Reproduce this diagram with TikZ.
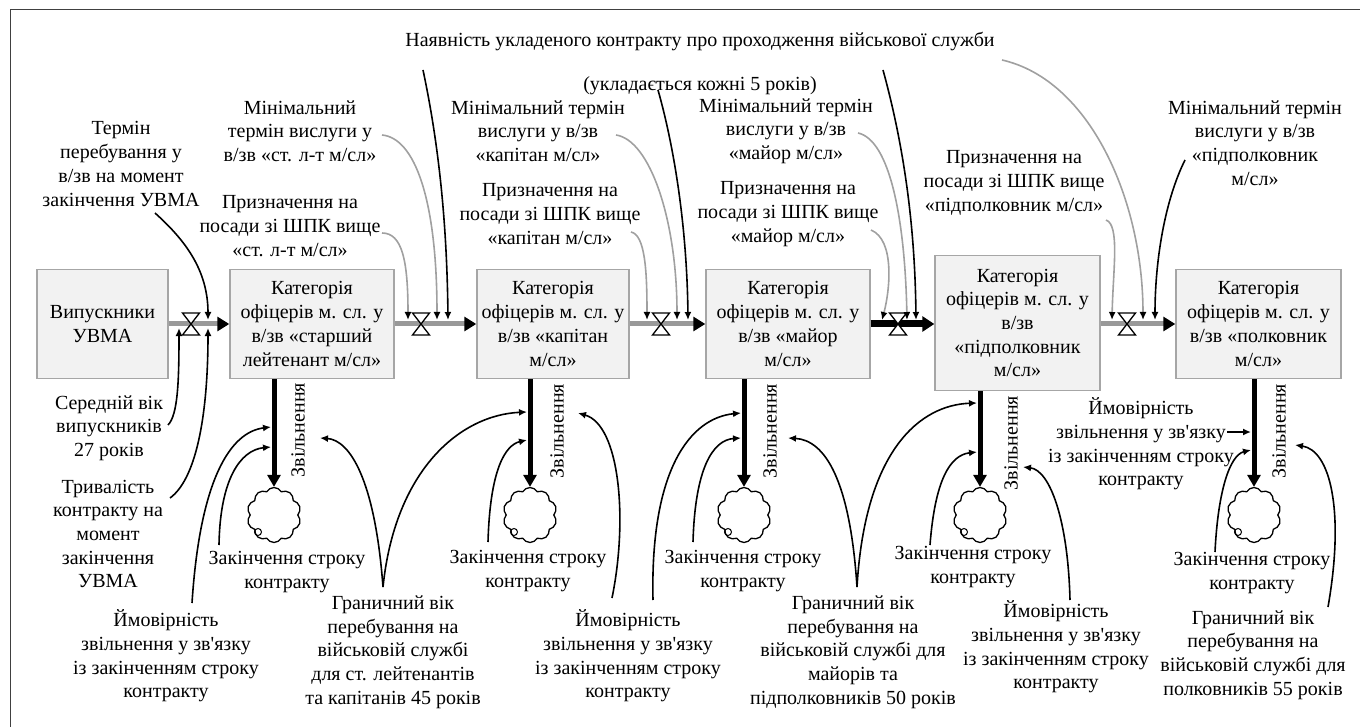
\documentclass[tikz,border=0pt]{standalone}
\usepackage{fontspec}
\setmainfont{Liberation Serif}
\usetikzlibrary{arrows.meta,shapes.symbols,calc}
\definecolor{boxgray}{HTML}{A6A6A6}
\definecolor{boxfill}{HTML}{F2F2F2}
\definecolor{pipegray}{HTML}{999999}
\definecolor{linkgray}{HTML}{A0A0A0}
\begin{document}
\begin{tikzpicture}[x=1pt,y=-1pt,
  font=\fontsize{20}{23.7}\selectfont,
  stockbox/.style={draw=boxgray, fill=boxfill, line width=1.4pt, align=center, inner sep=0pt},
  lbl/.style={align=center, inner sep=0pt},
  pipe/.style={line width=5pt, draw=pipegray, -{Triangle[length=12pt,width=14pt,color=black]}},
  blackpipe/.style={line width=7pt, draw=black, -{Triangle[length=12pt,width=15pt,color=black]}},
  ink/.style={line width=1.6pt, draw=black, -{Latex[length=8pt,width=7pt]}},
  ing/.style={line width=1.6pt, draw=linkgray, -{Latex[length=8pt,width=7pt,color=black]}},
  outfl/.style={line width=5pt, draw=black, -{Triangle[length=12pt,width=13pt]}},
  sink/.style={cloud, draw, cloud puffs=10, cloud puff arc=120, aspect=1, minimum width=54pt, minimum height=55pt, inner sep=0pt, line width=1.3pt},
  valve/.pic={\draw[fill=white, line width=1.3pt] (-8.5,-11) -- (8.5,-11) -- (-8.5,11) -- (8.5,11) -- cycle;}
]
\useasboundingbox (0,0) rectangle (1360,727);
% frame
\draw[line width=1pt, black!75] (10,740) -- (10,10) -- (1370,10);

% stocks
\node[stockbox, minimum width=131pt, minimum height=109pt] (b0) at (102.5,324) {Випускники\\УВМА};
\node[stockbox, minimum width=164pt, minimum height=109pt] (b1) at (312,324) {Категорія\\офіцерів м. сл. у\\в/зв «старший\\лейтенант м/сл»};
\node[stockbox, minimum width=152pt, minimum height=109pt] (b2) at (553,324) {Категорія\\офіцерів м. сл. у\\в/зв «капітан\\м/сл»};
\node[stockbox, minimum width=164pt, minimum height=109pt] (b3) at (788,324) {Категорія\\офіцерів м. сл. у\\в/зв «майор\\м/сл»};
\node[stockbox, minimum width=165pt, minimum height=135pt] (b4) at (1017.5,323) {Категорія\\офіцерів м. сл. у\\в/зв\\«підполковник\\м/сл»};
\node[stockbox, minimum width=165pt, minimum height=109pt] (b5) at (1258.5,324) {Категорія\\офіцерів м. сл. у\\в/зв «полковник\\м/сл»};

% flows
\draw[pipe] (b0.east) -- (b1.west);
\draw[pipe] (b1.east) -- (b2.west);
\draw[pipe] (b2.east) -- (b3.west);
\draw[blackpipe] (b3.east) -- (b4.west |- b3.east);
\draw[pipe] (b4.east |- b5.west) -- (b5.west);
\coordinate (v0) at (191,324);
\coordinate (v1) at (421,324);
\coordinate (v2) at (661,324);
\coordinate (v3) at (898,324);
\coordinate (v4) at (1127,324);
\pic at (v0) {valve};
\pic at (v1) {valve};
\pic at (v2) {valve};
\pic at (v3) {valve};
\pic at (v4) {valve};

% sinks
\node[sink] (c1) at (274,515) {};
\node[sink] (c2) at (530,515) {};
\node[sink] (c3) at (744,515) {};
\node[sink] (c4) at (980,515) {};
\node[sink] (c5) at (1254,515) {};
\foreach \c in {c1,c2,c3,c4,c5}{\draw[line width=1pt] ($(\c)+(-16,17)$) circle (3.5pt);}
\draw[outfl] (b1.south -| c1) -- (c1.north);
\draw[outfl] (b2.south -| c2) -- (c2.north);
\draw[outfl] (b3.south -| c3) -- (c3.north);
\draw[outfl] (b4.south -| c4) -- (c4.north);
\draw[outfl] (b5.south -| c5) -- (c5.north);
\node[lbl, rotate=90] (z1) at (298,430) {Звільнення};
\node[lbl, rotate=90] (z2) at (557,431) {Звільнення};
\node[lbl, rotate=90] (z3) at (770,431) {Звільнення};
\node[lbl, rotate=90] (z4) at (1011,443) {Звільнення};
\node[lbl, rotate=90] (z5) at (1279,431) {Звільнення};

% texts
\node[lbl] (ttop) at (700,42) {Наявність укладеного контракту про проходження військової служби};
\node[lbl] (t5) at (700,86) {(укладається кожні 5 років)};
\node[lbl] (tterm) at (121,164) {Термін\\перебування у\\в/зв на момент\\закінчення УВМА};
\node[lbl] (tmin1) at (300,131) {Мінімальний\\термін вислуги у\\в/зв «ст. л-т м/сл»};
\node[lbl] (tpr1) at (290,226) {Призначення на\\посади зі ШПК вище\\«ст. л-т м/сл»};
\node[lbl] (tmin2) at (538,131) {Мінімальний термін\\вислуги у в/зв\\«капітан м/сл»};
\node[lbl] (tpr2) at (550,214) {Призначення на\\посади зі ШПК вище\\«капітан м/сл»};
\node[lbl] (tmin3) at (786,131) {Мінімальний термін\\вислуги у в/зв\\«майор м/сл»};
\node[lbl] (tpr3) at (788,214) {Призначення на\\посади зі ШПК вище\\«майор м/сл»};
\node[lbl] (tpr4) at (1014,183) {Призначення на\\посади зі ШПК вище\\«підполковник м/сл»};
\node[lbl] (tmin5) at (1255,143) {Мінімальний термін\\вислуги у в/зв\\«підполковник\\м/сл»};
\node[lbl] (tavg) at (109,428) {Середній вік\\випускників\\27 років};
\node[lbl] (tdur) at (108,534) {Тривалість\\контракту на\\момент\\закінчення\\УВМА};
\node[lbl] (tprob1) at (166,656) {Ймовірність\\звільнення у зв\textquotesingle язку\\із закінченням строку\\контракту};
\node[lbl] (tend1) at (287,572) {Закінчення строку\\контракту};
\node[lbl] (tlim1) at (393,652) {Граничний вік\\перебування на\\військовій службі\\для ст. лейтенантів\\та капітанів 45 років};
\node[lbl] (tend2) at (528,571) {Закінчення строку\\контракту};
\node[lbl] (tprob2) at (628,656) {Ймовірність\\звільнення у зв\textquotesingle язку\\із закінченням строку\\контракту};
\node[lbl] (tend3) at (743,571) {Закінчення строку\\контракту};
\node[lbl] (tlim2) at (853,652) {Граничний вік\\перебування на\\військовій службі для\\майорів та\\підполковників 50 років};
\node[lbl] (tend4) at (973,567) {Закінчення строку\\контракту};
\node[lbl] (tprob4) at (1056,647) {Ймовірність\\звільнення у зв\textquotesingle язку\\із закінченням строку\\контракту};
\node[lbl] (tend5) at (1252,573) {Закінчення строку\\контракту};
\node[lbl] (tlim5) at (1253,655) {Граничний вік\\перебування на\\військовій службі для\\полковників 55 років};
\node[lbl] (tprob5) at (1141,444) {Ймовірність\\звільнення у зв\textquotesingle язку\\із закінченням строку\\контракту};

% link end points
\coordinate (sterm) at (155,213);  \coordinate (k0a) at (208,320);
\coordinate (savg) at (168,425);   \coordinate (k0b) at (179,328);
\coordinate (sdur) at (170,498);   \coordinate (k0c) at (208,328);
\coordinate (spr1) at (382,233);   \coordinate (k1a) at (408,320);
\coordinate (smin1) at (382,135);  \coordinate (k1b) at (437,320);
\coordinate (stop1) at (423,70);   \coordinate (k1c) at (448,320);
\coordinate (spr2) at (631,232);   \coordinate (k2a) at (647,320);
\coordinate (smin2) at (616,135);  \coordinate (k2b) at (677,320);
\coordinate (s5y) at (658,90);     \coordinate (k2c) at (688,320);
\coordinate (spr3) at (871,230);   \coordinate (k3a) at (882,320);
\coordinate (smin3) at (858,133);  \coordinate (k3b) at (907,320);
\coordinate (stop3) at (883,70);   \coordinate (k3c) at (916,320);
\coordinate (spr4) at (1106,220);  \coordinate (k4a) at (1112,320);
\coordinate (stop4) at (1002,60);  \coordinate (k4b) at (1143,320);
\coordinate (smin5) at (1185,160); \coordinate (k4c) at (1155,320);

% info links to valves
\draw[ink] (sterm) .. controls (185,240) and (208,270) .. (k0a);
\draw[ink] (savg) .. controls (178,415) and (179,380) .. (k0b);
\draw[ink] (sdur) .. controls (195,480) and (208,420) .. (k0c);
\draw[ing] (spr1) .. controls (402,233) and (408,260) .. (k1a);
\draw[ing] (smin1) .. controls (415,138) and (437,200) .. (k1b);
\draw[ink] (stop1) .. controls (440,150) and (447,230) .. (k1c);
\draw[ing] (spr2) .. controls (645,235) and (647,270) .. (k2a);
\draw[ing] (smin2) .. controls (650,140) and (677,220) .. (k2b);
\draw[ink] (s5y) .. controls (675,150) and (687,230) .. (k2c);
\draw[ing] (spr3) .. controls (895,240) and (890,290) .. (k3a);
\draw[ing] (smin3) .. controls (890,140) and (905,220) .. (k3b);
\draw[ink] (stop3) .. controls (905,150) and (915,230) .. (k3c);
\draw[ing] (spr4) .. controls (1120,225) and (1113,270) .. (k4a);
\draw[ing] (stop4) .. controls (1090,80) and (1143,200) .. (k4b);
\draw[ink] (smin5) .. controls (1165,200) and (1155,260) .. (k4c);

% info links to outflows
\coordinate (sp1) at (192,603);   \coordinate (o1a) at (271,427);
\coordinate (se1) at (219,545);   \coordinate (o1b) at (271,447);
\coordinate (sl1) at (383,587);   \coordinate (o1c) at (320,438);
\coordinate (o2a) at (527,412);
\coordinate (se2) at (488,542);   \coordinate (o2b) at (527,440);
\coordinate (sp2a) at (612,598);  \coordinate (o2c) at (578,413);
\coordinate (sp2b) at (653,600);  \coordinate (o3a) at (741,413);
\coordinate (se3) at (693,542);   \coordinate (o3b) at (741,438);
\coordinate (sl2) at (857,587);   \coordinate (o3c) at (788,438);
\coordinate (o4a) at (977,403);
\coordinate (se4) at (930,545);   \coordinate (o4b) at (977,452);
\coordinate (sp4) at (1070,600);  \coordinate (o4c) at (1023,467);
\coordinate (sp5) at (1227,432);  \coordinate (o5a) at (1251,432);
\coordinate (se5) at (1215,552);  \coordinate (o5b) at (1251,450);
\coordinate (sl5) at (1328,607);  \coordinate (o5c) at (1295,445);

\draw[ink] (sp1) .. controls (200,480) and (230,432) .. (o1a);
\draw[ink] (se1) .. controls (220,480) and (240,450) .. (o1b);
\draw[ink] (sl1) .. controls (375,480) and (350,440) .. (o1c);
\draw[ink] (sl1) .. controls (395,470) and (460,415) .. (o2a);
\draw[ink] (se2) .. controls (490,470) and (505,445) .. (o2b);
\draw[ink] (sp2a) .. controls (628,520) and (620,425) .. (o2c);
\draw[ink] (sp2b) .. controls (650,470) and (690,418) .. (o3a);
\draw[ink] (se3) .. controls (695,470) and (712,440) .. (o3b);
\draw[ink] (sl2) .. controls (850,480) and (825,440) .. (o3c);
\draw[ink] (sl2) .. controls (865,450) and (920,405) .. (o4a);
\draw[ink] (se4) .. controls (935,480) and (950,455) .. (o4b);
\draw[ink] (sp4) .. controls (1068,520) and (1050,470) .. (o4c);
\draw[ink] (sp5) -- (o5a);
\draw[ink] (se5) .. controls (1218,490) and (1230,455) .. (o5b);
\draw[ink] (sl5) .. controls (1345,510) and (1330,450) .. (o5c);
\end{tikzpicture}
\end{document}
